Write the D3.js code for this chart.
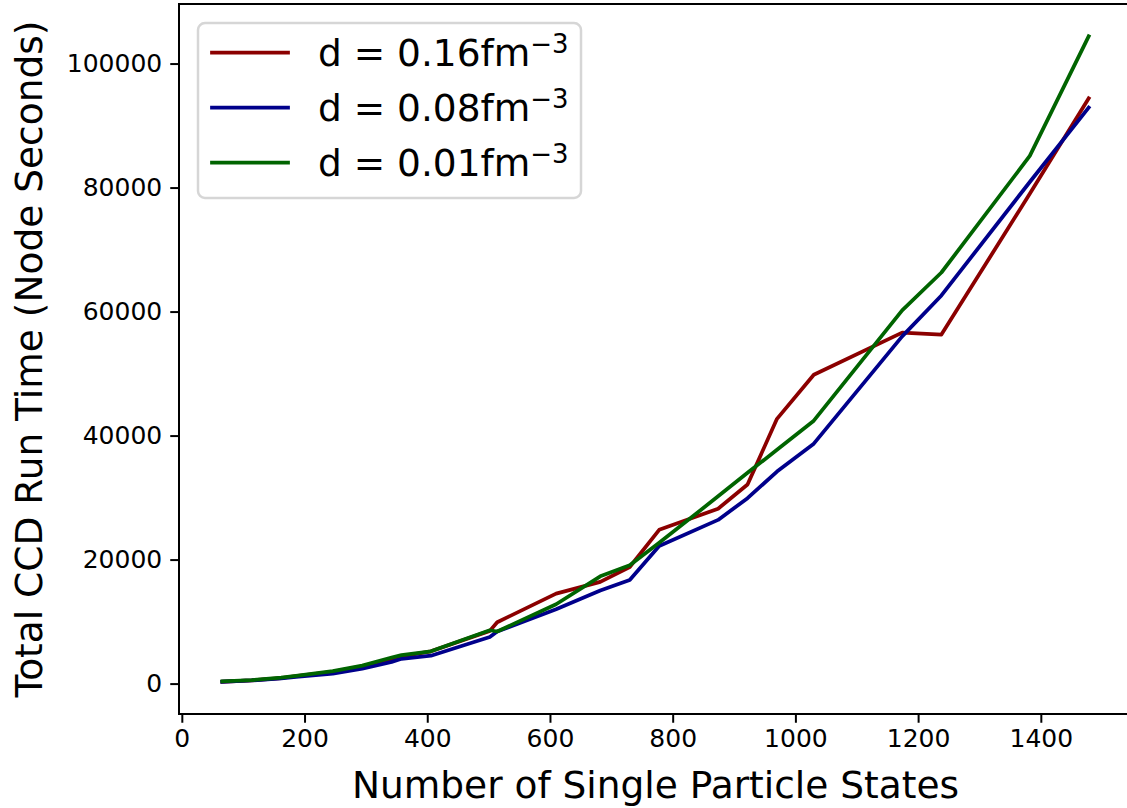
<!DOCTYPE html>
<html>
<head>
<meta charset="utf-8">
<script src="https://cdn.jsdelivr.net/npm/d3@7"></script>
<style>
  body { margin: 0; background: #fff; }
  svg { display: block; font-family: "DejaVu Sans", sans-serif; }
</style>
</head>
<body>
<div id="chart"></div>
<script>
// number of single particle states (shared x values)
const states = [66, 114, 162, 186, 246, 294, 342, 358, 406, 502, 514, 610, 682, 730, 778, 874, 922, 970, 1030, 1174, 1238, 1382, 1478];

// total CCD run time in node seconds, one array per density
const time016 = [300, 520, 900, 1200, 1900, 2800, 3900, 4400, 5200, 8500, 9900, 14500, 16400, 18800, 24800, 28200, 32100, 42700, 49800, 56600, 56300, 79000, 94400];
const time008 = [300, 500, 850, 1100, 1600, 2400, 3500, 4000, 4500, 7500, 8400, 12000, 15000, 16700, 22200, 26400, 29900, 34200, 38700, 56000, 62600, 80900, 92900];
const time001 = [350, 550, 950, 1250, 2000, 2900, 4200, 4600, 5200, 8600, 8400, 12800, 17300, 19100, 22700, 30200, 34000, 37700, 42400, 60200, 66300, 85100, 104400];

const seriesNames = ["0.16", "0.08", "0.01"];
const seriesColors = ["#8b0000", "#00008b", "#006400"];
const seriesValues = [time016, time008, time001];

const xTicks = [0, 200, 400, 600, 800, 1000, 1200, 1400];
const yTicks = [0, 20000, 40000, 60000, 80000, 100000];

const width = 1127, height = 808;
const margin = {left: 179, right: 1132, top: 4, bottom: 714};

const svg = d3.select("#chart").append("svg")
    .attr("width", width)
    .attr("height", height);

// matplotlib style 5% margins
const xMin = d3.min(states), xMax = d3.max(states);
const allY = seriesValues.flat();
const yMin = d3.min(allY), yMax = d3.max(allY);
const xPad = (xMax - xMin) * 0.05, yPad = (yMax - yMin) * 0.05;

const xScale = d3.scaleLinear()
    .domain([xMin - xPad, xMax + xPad])
    .range([margin.left, margin.right]);

const yScale = d3.scaleLinear()
    .domain([yMin - yPad, yMax + yPad])
    .range([margin.bottom, margin.top]);

// lines
const lineGen = d3.line()
    .x((d, i) => xScale(states[i]))
    .y(d => yScale(d));

seriesValues.forEach((vals, k) => {
  svg.append("path")
      .attr("d", lineGen(vals))
      .attr("fill", "none")
      .attr("stroke", seriesColors[k])
      .attr("stroke-width", 3.75)
      .attr("stroke-linejoin", "round")
      .attr("stroke-linecap", "square");
});

// axes
const xAxis = d3.axisBottom(xScale)
    .tickValues(xTicks)
    .tickSize(8.75)
    .tickPadding(6)
    .tickFormat(d3.format("d"));

const yAxis = d3.axisLeft(yScale)
    .tickValues(yTicks)
    .tickSize(8.75)
    .tickPadding(8)
    .tickFormat(d3.format("d"));

const gx = svg.append("g")
    .attr("transform", `translate(0,${margin.bottom})`)
    .call(xAxis);

const gy = svg.append("g")
    .attr("transform", `translate(${margin.left},0)`)
    .call(yAxis);

[gx, gy].forEach(g => {
  g.select(".domain").remove();
  g.selectAll(".tick line").attr("stroke", "#000").attr("stroke-width", 2);
  g.selectAll(".tick text")
      .attr("fill", "#000")
      .attr("font-size", 25)
      .attr("font-family", "DejaVu Sans, sans-serif");
});

// frame (right spine falls just outside the picture)
svg.append("rect")
    .attr("x", margin.left)
    .attr("y", margin.top)
    .attr("width", margin.right - margin.left)
    .attr("height", margin.bottom - margin.top)
    .attr("fill", "none")
    .attr("stroke", "#000")
    .attr("stroke-width", 2);

// axis titles
svg.append("text")
    .attr("x", (margin.left + margin.right) / 2)
    .attr("y", 798)
    .attr("text-anchor", "middle")
    .attr("font-size", 37.5)
    .text("Number of Single Particle States");

svg.append("text")
    .attr("transform", `translate(42,${(margin.top + margin.bottom) / 2}) rotate(-90)`)
    .attr("text-anchor", "middle")
    .attr("font-size", 37.5)
    .text("Total CCD Run Time (Node Seconds)");

// legend
const legend = svg.append("g");

legend.append("rect")
    .attr("x", 198)
    .attr("y", 23)
    .attr("width", 383)
    .attr("height", 175)
    .attr("rx", 7)
    .attr("fill", "#fff")
    .attr("fill-opacity", 0.8)
    .attr("stroke", "#d6d6d6")
    .attr("stroke-width", 2.5);

seriesNames.forEach((name, k) => {
  const yy = 52.5 + k * 55;
  legend.append("line")
      .attr("x1", 212)
      .attr("x2", 288)
      .attr("y1", yy)
      .attr("y2", yy)
      .attr("stroke", seriesColors[k])
      .attr("stroke-width", 3.75)
      .attr("stroke-linecap", "square");
  const t = legend.append("text")
      .attr("x", 318)
      .attr("y", yy + 13)
      .attr("font-size", 37.5)
      .attr("fill", "#000");
  t.append("tspan").text(`d = ${name}fm`);
  t.append("tspan")
      .attr("font-size", 26)
      .attr("dy", -13)
      .text("\u22123");
});
</script>
</body>
</html>
